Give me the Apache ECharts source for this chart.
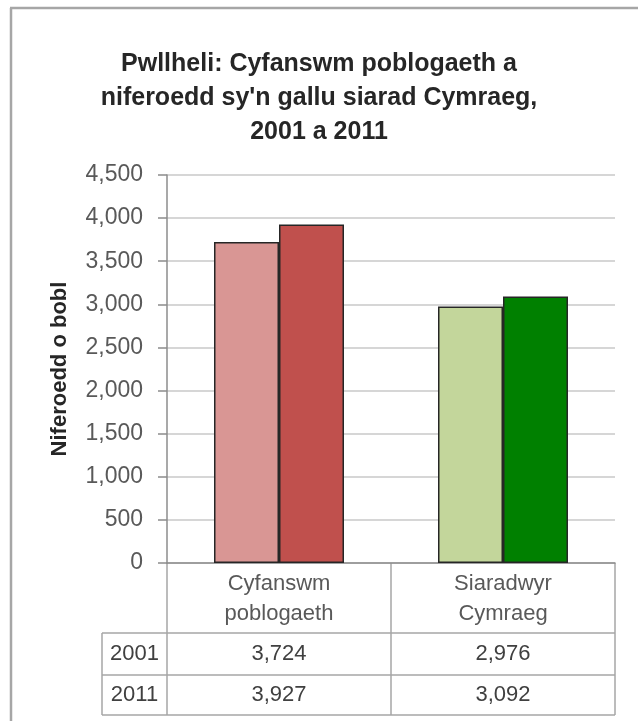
<!DOCTYPE html>
<html>
<head>
<meta charset="utf-8">
<script src="https://cdn.jsdelivr.net/npm/echarts@6/dist/echarts.min.js"></script>
<style>
html,body{margin:0;padding:0;background:#fff;}
#c{width:638px;height:721px;}
</style>
</head>
<body>
<div id="c"></div>
<script>
var categories = ['Cyfanswm\npoblogaeth', 'Siaradwyr\nCymraeg'];
var years = ['2001', '2011'];
var values2001 = [3724, 2976];
var values2011 = [3927, 3092];
var yTicks = [0, 500, 1000, 1500, 2000, 2500, 3000, 3500, 4000, 4500];

var colors2001 = ['#d99694', '#c3d69b'];
var colors2011 = ['#c0504d', '#008000'];

var G = {left: 167, right: 23, top: 175, bottom: 158};
var W = 638, H = 721;
var fontFam = '"Liberation Sans", Arial, sans-serif';

function fmt(v){ return v.toLocaleString('en-US'); }

var chart = echarts.init(document.getElementById('c'), null, {renderer: 'canvas'});

function barData(vals, cols){
  return vals.map(function(v, i){ return {value: v, itemStyle: {color: cols[i]}}; });
}

var option = {
  backgroundColor: '#fff',
  animation: false,
  title: {
    text: 'Pwllheli: Cyfanswm poblogaeth a\nniferoedd sy\'n gallu siarad Cymraeg,\n2001 a 2011',
    left: 'center',
    top: 42,
    textStyle: {fontFamily: fontFam, fontSize: 25, fontWeight: 'bold', color: '#262626', lineHeight: 34}
  },
  grid: {left: G.left, right: G.right, top: G.top, bottom: G.bottom},
  xAxis: {
    type: 'category',
    data: categories,
    axisLine: {show: true, lineStyle: {color: '#8c8c8c', width: 1.5}},
    axisTick: {show: false},
    axisLabel: {show: true, fontFamily: fontFam, fontSize: 22, color: '#595959', lineHeight: 30, margin: 6}
  },
  yAxis: {
    type: 'value',
    min: yTicks[0],
    max: yTicks[yTicks.length - 1],
    interval: yTicks[1] - yTicks[0],
    name: 'Niferoedd o bobl',
    nameLocation: 'middle',
    nameRotate: 90,
    nameGap: 96,
    nameTextStyle: {fontFamily: fontFam, fontSize: 22, fontWeight: 'bold', color: '#262626'},
    axisLine: {show: true, lineStyle: {color: '#8c8c8c', width: 1.5}},
    axisTick: {show: true, length: 9, inside: false, lineStyle: {color: '#8c8c8c', width: 1.5}},
    axisLabel: {fontFamily: fontFam, fontSize: 23, color: '#595959', margin: 24, formatter: function(v){ return fmt(v); }},
    splitLine: {show: true, lineStyle: {color: '#c8c8c8', width: 1.5}}
  },
  series: [
    {name: years[0], type: 'bar', data: barData(values2001, colors2001), barWidth: 65, barGap: '0%',
     itemStyle: {borderColor: '#262626', borderWidth: 1.5}},
    {name: years[1], type: 'bar', data: barData(values2011, colors2011), barWidth: 65, barGap: '0%',
     itemStyle: {borderColor: '#262626', borderWidth: 1.5}}
  ]
};
chart.setOption(option);

// Data table + frame
var axisY = H - G.bottom;           // 563
var headerBottom = 633, row1Bottom = 675, row2Bottom = 715;
var labelLeft = 102;
var plotLeft = G.left, plotRight = W - G.right;
var lineCol = '#a6a6a6';
var els = [];
function hline(x1, x2, y, c, w){ els.push({type:'line', shape:{x1:x1,y1:y,x2:x2,y2:y}, style:{stroke:c||lineCol, lineWidth:w||1.5}, silent:true}); }
function vline(x, y1, y2, c, w){ els.push({type:'line', shape:{x1:x,y1:y1,x2:x,y2:y2}, style:{stroke:c||lineCol, lineWidth:w||1.5}, silent:true}); }
function txt(x, y, s){ els.push({type:'text', x:x, y:y, style:{text:s, fill:'#404040', font:'22px ' + fontFam, textAlign:'center', textVerticalAlign:'middle'}, silent:true}); }

// outer frame
hline(10, W, 8, '#a6a6a6', 2.5);
vline(11, 8, H, '#a6a6a6', 2.5);

var boundary = (chart.convertToPixel({xAxisIndex:0}, 0) + chart.convertToPixel({xAxisIndex:0}, 1)) / 2;
vline(plotLeft, axisY, row2Bottom);
vline(boundary, axisY, row2Bottom);
vline(plotRight, axisY, row2Bottom);
vline(labelLeft, headerBottom, row2Bottom);
hline(labelLeft, plotRight, headerBottom);
hline(labelLeft, plotRight, row1Bottom);
hline(labelLeft, plotRight, row2Bottom);

var rows = [values2001, values2011];
var rowMid = [(headerBottom + row1Bottom) / 2, (row1Bottom + row2Bottom) / 2];
rows.forEach(function(vals, r){
  txt((labelLeft + plotLeft) / 2, rowMid[r], years[r]);
  vals.forEach(function(v, i){
    txt(chart.convertToPixel({xAxisIndex:0}, i), rowMid[r], fmt(v));
  });
});
chart.setOption({graphic: {elements: els}});
</script>
</body>
</html>
